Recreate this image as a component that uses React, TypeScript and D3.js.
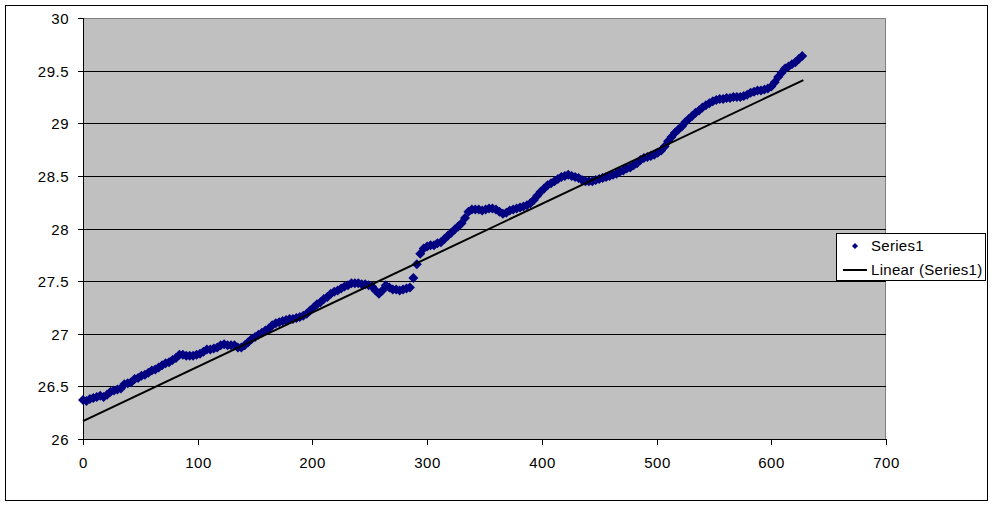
import * as d3 from "d3";

const W = 994;
const H = 506;

// series values, one every `sampleStep` units of x
const sampleStep = 3;
const yValues = [
  26.37, 26.36, 26.38, 26.39, 26.4, 26.41, 26.4, 26.42, 26.45, 26.46,
  26.47, 26.48, 26.52, 26.53, 26.54, 26.57, 26.58, 26.6, 26.61, 26.63,
  26.65, 26.66, 26.68, 26.7, 26.72, 26.73, 26.75, 26.77, 26.8, 26.8,
  26.79, 26.79, 26.79, 26.8, 26.81, 26.83, 26.85, 26.85, 26.86, 26.87,
  26.89, 26.9, 26.89, 26.89, 26.89, 26.87, 26.87, 26.89, 26.92, 26.95,
  26.97, 26.99, 27.01, 27.03, 27.05, 27.08, 27.1, 27.11, 27.12, 27.13,
  27.14, 27.14, 27.15, 27.16, 27.17, 27.19, 27.22, 27.25, 27.28, 27.3,
  27.33, 27.35, 27.38, 27.4, 27.41, 27.43, 27.45, 27.46, 27.48, 27.48,
  27.48, 27.47, 27.47, 27.46, 27.45, 27.41, 27.38, 27.41, 27.46, 27.44,
  27.42, 27.42, 27.41, 27.42, 27.43, 27.44, 27.53, 27.66, 27.76, 27.81,
  27.83, 27.84, 27.84, 27.86, 27.87, 27.9, 27.93, 27.96, 27.99, 28.02,
  28.05, 28.1, 28.16, 28.18, 28.18, 28.18, 28.17, 28.18, 28.19, 28.19,
  28.18, 28.16, 28.14, 28.15, 28.17, 28.18, 28.19, 28.2, 28.21, 28.22,
  28.24, 28.27, 28.31, 28.35, 28.38, 28.41, 28.43, 28.45, 28.47, 28.49,
  28.5, 28.51, 28.5, 28.49, 28.48, 28.46, 28.45, 28.45, 28.45, 28.46,
  28.47, 28.48, 28.49, 28.5, 28.51, 28.52, 28.54, 28.55, 28.57, 28.58,
  28.6, 28.62, 28.65, 28.67, 28.68, 28.69, 28.7, 28.72, 28.74, 28.78,
  28.83, 28.87, 28.91, 28.94, 28.97, 29.01, 29.04, 29.07, 29.1, 29.12,
  29.15, 29.17, 29.19, 29.21, 29.22, 29.23, 29.23, 29.24, 29.24, 29.25,
  29.25, 29.25, 29.26, 29.27, 29.29, 29.3, 29.31, 29.31, 29.32, 29.33,
  29.35, 29.39, 29.44, 29.48, 29.52, 29.54, 29.56, 29.58, 29.61, 29.64,
];
const xValues = yValues.map((_, i) => i * sampleStep);

// trendline end points
const trendX = [0, 628];
const trendY = [26.17, 29.41];

const xTicks = [0, 100, 200, 300, 400, 500, 600, 700];
const yTicks = [26, 26.5, 27, 27.5, 28, 28.5, 29, 29.5, 30];
const legendLabels = ["Series1", "Linear (Series1)"];

const font = "'Liberation Sans', Arial, sans-serif";

const plot = { left: 83, top: 18, right: 886, bottom: 439 };

export default function App() {
  const xScale = d3.scaleLinear().domain([0, 700]).range([plot.left, plot.right]);
  const yScale = d3.scaleLinear().domain([26, 30]).range([plot.bottom, plot.top]);

  const diamond = (cx: number, cy: number, r: number) =>
    `M${cx},${cy - r}L${cx + r},${cy}L${cx},${cy + r}L${cx - r},${cy}Z`;

  const trendLine = d3
    .line<number>()
    .x((_, i) => xScale(trendX[i]))
    .y((d) => yScale(d))(trendY);

  const legendX = 836;
  const legendY = 233;

  return (
    <div style={{ position: "absolute", left: 0, top: 0 }}>
      <svg width={W} height={H} style={{ display: "block", background: "#fff" }}>
        <rect x={5.5} y={5.5} width={982} height={495} fill="#fff" stroke="#000" />

        {/* plot area */}
        <rect
          x={plot.left}
          y={plot.top}
          width={plot.right - plot.left}
          height={plot.bottom - plot.top}
          fill="#C0C0C0"
        />
        <path
          d={`M${plot.left},${plot.top + 0.5}H${plot.right - 0.5}V${plot.bottom}`}
          fill="none"
          stroke="#808080"
        />
        {yTicks.slice(1, -1).map((t) => (
          <line
            key={t}
            x1={plot.left}
            x2={plot.right}
            y1={Math.round(yScale(t)) + 0.5}
            y2={Math.round(yScale(t)) + 0.5}
            stroke="#000"
          />
        ))}

        {/* axes */}
        <line x1={plot.left + 0.5} x2={plot.left + 0.5} y1={plot.top} y2={plot.bottom} stroke="#000" />
        <line x1={plot.left} x2={plot.right} y1={plot.bottom + 0.5} y2={plot.bottom + 0.5} stroke="#000" />
        {yTicks.map((t) => {
          const y = Math.round(yScale(t)) + 0.5;
          return (
            <g key={t}>
              <line x1={plot.left - 5} x2={plot.left} y1={y} y2={y} stroke="#000" />
              <text
                x={69}
                y={y}
                dy="0.36em"
                textAnchor="end"
                fontFamily={font}
                fontSize={15}
                letterSpacing={0.5}
                fill="#000"
              >
                {t}
              </text>
            </g>
          );
        })}
        {xTicks.map((t) => {
          const x = Math.round(xScale(t)) + 0.5;
          return (
            <g key={t}>
              <line x1={x} x2={x} y1={plot.bottom} y2={plot.bottom + 6} stroke="#000" />
              <text
                x={x}
                y={467.5}
                textAnchor="middle"
                fontFamily={font}
                fontSize={15}
                letterSpacing={0.5}
                fill="#000"
              >
                {t}
              </text>
            </g>
          );
        })}

        {/* series markers */}
        <g fill="#000080">
          {xValues.map((x, i) => (
            <path key={i} d={diamond(xScale(x), yScale(yValues[i]), 5)} />
          ))}
        </g>

        {/* linear trendline */}
        <path d={trendLine ?? ""} fill="none" stroke="#000" strokeWidth={2} />

        {/* legend */}
        <rect x={legendX + 0.5} y={legendY + 0.5} width={149} height={47} fill="#fff" stroke="#000" />
        <path d={diamond(legendX + 19, legendY + 13, 3)} fill="#000080" />
        <text x={legendX + 35} y={legendY + 13} dy="0.36em" fontFamily={font} fontSize={15} letterSpacing={0.3}>
          {legendLabels[0]}
        </text>
        <line x1={legendX + 7} x2={legendX + 31} y1={legendY + 37} y2={legendY + 37} stroke="#000" strokeWidth={2} />
        <text x={legendX + 35} y={legendY + 37} dy="0.36em" fontFamily={font} fontSize={15} letterSpacing={0.3}>
          {legendLabels[1]}
        </text>
      </svg>
    </div>
  );
}
